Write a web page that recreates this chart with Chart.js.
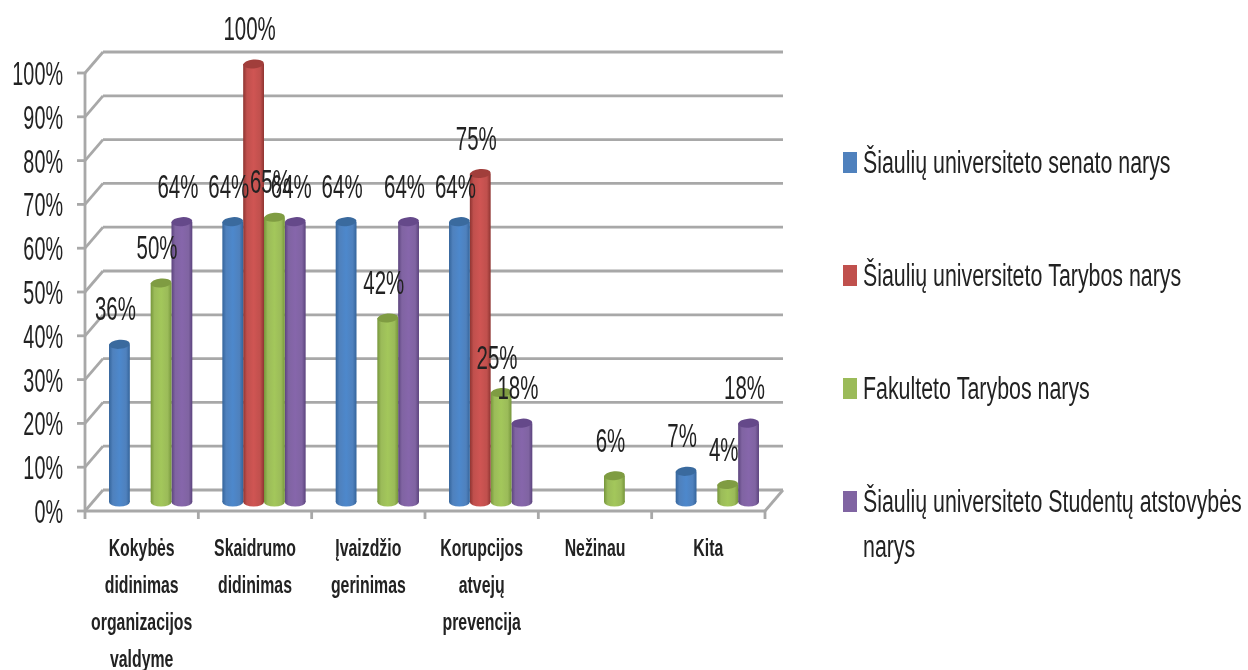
<!DOCTYPE html>
<html>
<head>
<meta charset="utf-8">
<style>
  html, body { margin: 0; background: #fff; }
  canvas { display: block; filter: blur(0.7px); }
</style>
<script src="https://cdn.jsdelivr.net/npm/chart.js@4/dist/chart.umd.min.js"></script>
</head>
<body>
<canvas id="c" width="1248" height="670"></canvas>
<script>
const categories = [
  ['Kokybės', 'didinimas', 'organizacijos', 'valdyme'],
  ['Skaidrumo', 'didinimas'],
  ['Įvaizdžio', 'gerinimas'],
  ['Korupcijos', 'atvejų', 'prevencija'],
  ['Nežinau'],
  ['Kita']
];
const senato     = [36, 64, 64, 64, null, 7];
const tarybos    = [null, 100, null, 75, null, null];
const fakulteto  = [50, 65, 42, 25, 6, 4];
const studentu   = [64, 64, 64, 18, null, 18];
const names = [
  ['Šiaulių universiteto senato narys'],
  ['Šiaulių universiteto Tarybos narys'],
  ['Fakulteto Tarybos narys'],
  ['Šiaulių universiteto Studentų atstovybės', 'narys']
];
const colors = ['#4f81bd', '#c0504d', '#9bbb59', '#8064a2'];
const darks  = ['#34649b', '#8e3431', '#76963b', '#5b437d'];
const lights = ['#4d88cc', '#cf5553', '#a3c75b', '#8666ab'];
const caps   = ['#3a6a9e', '#a13e3b', '#7f9c42', '#65498a'];

// depth of the fake 3D box, px
const WALL_X = 18, WALL_Y = -21;
const BAR_X = 9, BAR_Y = -9, CAP_RY = 4.5;
const GRID = '#a8a8a8', INK = '#222';
const FONT = '"Liberation Sans Narrow", "Liberation Sans", sans-serif';

// source picture is stretched upward, so text gets squeezed horizontally
function squeezed(ctx, str, x, y, size, sx, align, weight) {
  ctx.save();
  ctx.translate(x, y);
  ctx.scale(sx, 1);
  ctx.font = (weight || '') + ' ' + size + 'px ' + FONT;
  ctx.textAlign = align;
  ctx.textBaseline = 'middle';
  ctx.fillStyle = INK;
  ctx.fillText(str, 0, 0);
  ctx.restore();
}

function line(ctx, x1, y1, x2, y2) {
  ctx.beginPath();
  ctx.moveTo(x1, y1);
  ctx.lineTo(x2, y2);
  ctx.stroke();
}

function barGradient(ctx, el, i) {
  const g = ctx.createLinearGradient(el.x - el.width / 2, 0, el.x + el.width / 2, 0);
  g.addColorStop(0, darks[i]);
  g.addColorStop(0.18, colors[i]);
  g.addColorStop(0.5, lights[i]);
  g.addColorStop(0.82, colors[i]);
  g.addColorStop(1, darks[i]);
  return g;
}

const box3d = {
  id: 'box3d',
  beforeDatasetsDraw(chart) {
    const { ctx, chartArea: a, scales: { y } } = chart;
    ctx.save();
    ctx.strokeStyle = GRID;
    ctx.lineWidth = 2.8;
    y.ticks.forEach((t, i) => {
      const py = y.getPixelForTick(i);
      line(ctx, a.left, py, a.left + WALL_X, py + WALL_Y);
      line(ctx, a.left + WALL_X, py + WALL_Y, a.right + WALL_X, py + WALL_Y);
      line(ctx, a.left - 8, py, a.left, py);
    });
    line(ctx, a.left, a.top, a.left, a.bottom);
    line(ctx, a.left, a.bottom, a.right, a.bottom);
    line(ctx, a.right, a.bottom, a.right + WALL_X, a.bottom + WALL_Y);
    for (let i = 0; i <= categories.length; i++) {
      const px = a.left + (a.right - a.left) * i / categories.length;
      line(ctx, px, a.bottom, px, a.bottom + 8);
    }
    ctx.restore();
    // bars sit in the middle of the box depth
    ctx.save();
    ctx.translate(BAR_X, BAR_Y);
  },
  beforeDatasetDraw(chart, args) {
    const { ctx } = chart;
    const i = args.index;
    args.meta.data.forEach((el, j) => {
      if (chart.data.datasets[i].data[j] == null) return;
      const g = barGradient(ctx, el, i);
      el.options = Object.assign({}, el.options, { backgroundColor: g });
      // rounded foot
      ctx.fillStyle = g;
      ctx.beginPath();
      ctx.ellipse(el.x, el.base, el.width / 2, CAP_RY, 0, 0, Math.PI * 2);
      ctx.fill();
    });
  },
  afterDatasetsDraw(chart) {
    const { ctx, data } = chart;
    data.datasets.forEach((ds, i) => {
      chart.getDatasetMeta(i).data.forEach((el, j) => {
        if (ds.data[j] == null) return;
        ctx.fillStyle = caps[i];
        ctx.beginPath();
        ctx.ellipse(el.x, el.y, el.width / 2, CAP_RY, -0.08, 0, Math.PI * 2);
        ctx.fill();
      });
    });
    ctx.restore();
    // value labels go over every bar
    data.datasets.forEach((ds, i) => {
      chart.getDatasetMeta(i).data.forEach((el, j) => {
        if (ds.data[j] == null) return;
        squeezed(ctx, ds.data[j] + '%', el.x + BAR_X - 4, el.y + BAR_Y - 33, 33, 0.62, 'center');
      });
    });
  },
  afterDraw(chart) {
    const { ctx, scales: { x, y } } = chart;
    y.ticks.forEach((t, i) => {
      squeezed(ctx, t.value + '%', 63, y.getPixelForTick(i) + 3, 33, 0.6, 'right');
    });
    categories.forEach((lines, i) => {
      lines.forEach((s, k) => {
        squeezed(ctx, s, x.getPixelForValue(i), 549 + k * 37, 24, 0.66, 'center', 'bold');
      });
    });
    const rows = [162, 275, 388, 501];
    names.forEach((lines, i) => {
      ctx.fillStyle = colors[i];
      ctx.fillRect(843, rows[i] - 10, 14, 21);
      lines.forEach((s, k) => {
        squeezed(ctx, s, 863, rows[i] + 2 + k * 45, 31, 0.689, 'left');
      });
    });
  }
};

new Chart(document.getElementById('c'), {
  type: 'bar',
  data: {
    labels: categories,
    datasets: [senato, tarybos, fakulteto, studentu].map((d, i) => ({
      label: names[i].join(' '),
      data: d,
      backgroundColor: colors[i],
      barPercentage: 1,
      categoryPercentage: 0.735
    }))
  },
  options: {
    responsive: false,
    animation: false,
    layout: { padding: { left: 85, right: 483, top: 73, bottom: 159 } },
    plugins: { legend: { display: false }, title: { display: false }, tooltip: { enabled: false } },
    scales: {
      x: { grid: { display: false, drawTicks: false }, border: { display: false }, ticks: { display: false } },
      y: {
        min: 0, max: 100,
        grid: { display: false, drawTicks: false }, border: { display: false },
        ticks: { display: false, stepSize: 10 }
      }
    }
  },
  plugins: [box3d]
});
</script>
</body>
</html>
